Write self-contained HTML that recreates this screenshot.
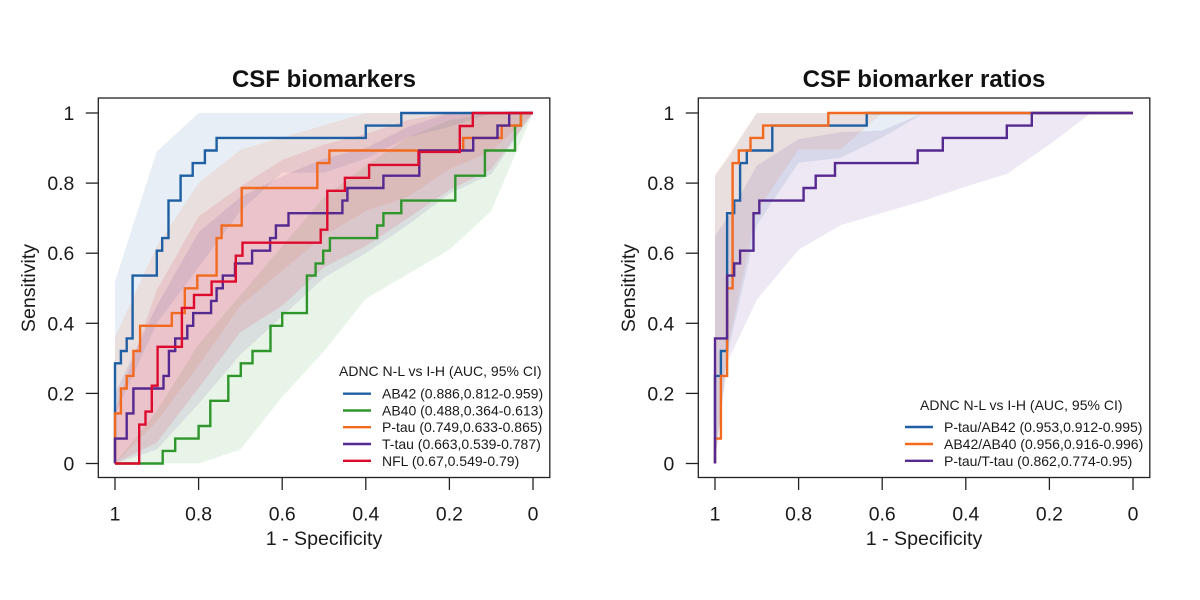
<!DOCTYPE html>
<html lang="en">
<head>
<meta charset="utf-8">
<title>CSF biomarkers ROC curves</title>
<style>
html,body{margin:0;padding:0;background:#fff;}
svg{display:block;font-family:"Liberation Sans",Arial,sans-serif;fill:#1a1a1a;}
</style>
</head>
<body>
<svg id="chart" width="1200" height="600" viewBox="0 0 1200 600" xmlns="http://www.w3.org/2000/svg">
  <rect width="1200" height="600" fill="#ffffff"/>
  <g id="panel-left"></g>
  <g id="panel-right"></g>

  <text x="324" y="87" text-anchor="middle" font-size="24" font-weight="700" fill="#111">CSF biomarkers</text>
  <text x="924" y="87" text-anchor="middle" font-size="24" font-weight="700" fill="#111">CSF biomarker ratios</text>
  <text x="324" y="545" text-anchor="middle" font-size="19.6">1 - Specificity</text>
  <text x="924" y="545" text-anchor="middle" font-size="19.6">1 - Specificity</text>
  <text transform="translate(35,288) rotate(-90)" text-anchor="middle" font-size="19.6">Sensitivity</text>
  <text transform="translate(635,288) rotate(-90)" text-anchor="middle" font-size="19.6">Sensitivity</text>

  <g font-size="14">
    <text x="339" y="376">ADNC N-L vs I-H (AUC, 95% CI)</text>
    <line x1="343" x2="371" y1="393.7" y2="393.7" stroke="#1f5fa3" stroke-width="2.4"/>
    <text x="382" y="398.7">AB42 (0.886,0.812-0.959)</text>
    <line x1="343" x2="371" y1="410.5" y2="410.5" stroke="#2f962c" stroke-width="2.4"/>
    <text x="382" y="415.5">AB40 (0.488,0.364-0.613)</text>
    <line x1="343" x2="371" y1="427.2" y2="427.2" stroke="#f26a1f" stroke-width="2.4"/>
    <text x="382" y="432.2">P-tau (0.749,0.633-0.865)</text>
    <line x1="343" x2="371" y1="444" y2="444" stroke="#55298f" stroke-width="2.4"/>
    <text x="382" y="449">T-tau (0.663,0.539-0.787)</text>
    <line x1="343" x2="371" y1="460.8" y2="460.8" stroke="#de0a2e" stroke-width="2.4"/>
    <text x="382" y="465.8">NFL (0.67,0.549-0.79)</text>
  </g>

  <g font-size="14">
    <text x="920" y="410">ADNC N-L vs I-H (AUC, 95% CI)</text>
    <line x1="905" x2="933" y1="427" y2="427" stroke="#1f5fa3" stroke-width="2.4"/>
    <text x="944" y="432">P-tau/AB42 (0.953,0.912-0.995)</text>
    <line x1="905" x2="933" y1="444" y2="444" stroke="#f26a1f" stroke-width="2.4"/>
    <text x="944" y="449">AB42/AB40 (0.956,0.916-0.996)</text>
    <line x1="905" x2="933" y1="460.8" y2="460.8" stroke="#55298f" stroke-width="2.4"/>
    <text x="944" y="465.8">P-tau/T-tau (0.862,0.774-0.95)</text>
  </g>
</svg>
<script>
// Axis tick labels
const xTicks = [1, 0.8, 0.6, 0.4, 0.2, 0];
const yTicks = [0, 0.2, 0.4, 0.6, 0.8, 1];

// Left panel: step curves (specificity at which the curve rises, sensitivity reached)
const ab42Spec = [1, 0.986, 0.972, 0.958, 0.9, 0.887, 0.872, 0.843, 0.814, 0.785, 0.757, 0.4, 0.315];
const ab42Sens = [0.286, 0.321, 0.357, 0.536, 0.607, 0.643, 0.75, 0.821, 0.857, 0.893, 0.929, 0.964, 1];
const ab40Spec = [1, 0.886, 0.856, 0.8, 0.772, 0.729, 0.699, 0.671, 0.628, 0.6, 0.541, 0.52, 0.502, 0.486, 0.373, 0.358, 0.315, 0.186, 0.115, 0.043, 0.029];
const ab40Sens = [0, 0.036, 0.071, 0.107, 0.179, 0.25, 0.286, 0.321, 0.393, 0.429, 0.536, 0.571, 0.607, 0.643, 0.679, 0.714, 0.75, 0.821, 0.893, 0.964, 1];
const pTauSpec = [1, 0.986, 0.972, 0.956, 0.94, 0.864, 0.833, 0.803, 0.757, 0.745, 0.697, 0.516, 0.487, 0.167, 0.075, 0.029];
const pTauSens = [0.143, 0.214, 0.25, 0.321, 0.393, 0.429, 0.5, 0.536, 0.643, 0.679, 0.786, 0.857, 0.893, 0.929, 0.964, 1];
const tTauSpec = [1, 0.972, 0.956, 0.884, 0.871, 0.856, 0.827, 0.813, 0.77, 0.757, 0.742, 0.713, 0.672, 0.629, 0.615, 0.585, 0.456, 0.444, 0.358, 0.272, 0.143, 0.085, 0.057];
const tTauSens = [0.071, 0.143, 0.214, 0.25, 0.321, 0.357, 0.393, 0.429, 0.464, 0.5, 0.536, 0.571, 0.607, 0.643, 0.679, 0.714, 0.75, 0.786, 0.821, 0.893, 0.929, 0.964, 1];
const nflSpec = [1, 0.942, 0.927, 0.912, 0.898, 0.84, 0.811, 0.769, 0.711, 0.695, 0.508, 0.492, 0.45, 0.392, 0.274, 0.175, 0.144];
const nflSens = [0, 0.111, 0.148, 0.222, 0.333, 0.444, 0.481, 0.519, 0.593, 0.63, 0.667, 0.778, 0.815, 0.852, 0.889, 0.963, 1];

// Left panel: confidence bands at a specificity grid
const leftBandSpec = [1, 0.9, 0.8, 0.7, 0.6, 0.5, 0.4, 0.3, 0.2, 0.1, 0];
const ab42Upper = [0.52, 0.89, 1, 1, 1, 1, 1, 1, 1, 1, 1];
const ab42Lower = [0.14, 0.4, 0.56, 0.72, 0.83, 0.83, 0.87, 0.93, 0.96, 1, 1];
const ab40Upper = [0, 0.15, 0.34, 0.48, 0.62, 0.76, 0.85, 0.93, 0.98, 1, 1];
const ab40Lower = [0, 0, 0, 0.04, 0.19, 0.32, 0.47, 0.54, 0.61, 0.72, 1];
const pTauUpper = [0.36, 0.62, 0.8, 0.895, 0.93, 0.965, 1, 1, 1, 1, 1];
const pTauLower = [0, 0.12, 0.28, 0.45, 0.55, 0.65, 0.72, 0.76, 0.84, 0.89, 1];
const tTauUpper = [0.2, 0.45, 0.66, 0.76, 0.82, 0.87, 0.9, 0.96, 1, 1, 1];
const tTauLower = [0, 0.04, 0.17, 0.31, 0.42, 0.53, 0.6, 0.68, 0.77, 0.825, 1];
const nflUpper = [0.15, 0.495, 0.705, 0.79, 0.866, 0.91, 0.94, 0.98, 1, 1, 1];
const nflLower = [0, 0.06, 0.215, 0.375, 0.45, 0.56, 0.62, 0.7, 0.78, 0.84, 1];

// Right panel: step curves
const pTauAb42Spec = [1, 0.986, 0.971, 0.954, 0.94, 0.924, 0.863, 0.637];
const pTauAb42Sens = [0.25, 0.321, 0.714, 0.75, 0.857, 0.893, 0.964, 1];
const ab42Ab40Spec = [1, 0.986, 0.971, 0.958, 0.943, 0.915, 0.885, 0.729];
const ab42Ab40Sens = [0.071, 0.25, 0.5, 0.857, 0.893, 0.929, 0.964, 1];
const pTauTTauSpec = [1, 0.971, 0.954, 0.94, 0.908, 0.894, 0.788, 0.759, 0.713, 0.515, 0.455, 0.302, 0.242];
const pTauTTauSens = [0.357, 0.536, 0.571, 0.607, 0.714, 0.75, 0.786, 0.821, 0.857, 0.893, 0.929, 0.964, 1];

// Right panel: confidence bands
const rightBandSpec = [1, 0.97, 0.9, 0.8, 0.7, 0.6, 0.5, 0.4, 0.3, 0.2, 0.1, 0];
const pTauAb42Upper = [0.82, 0.87, 1, 1, 1, 1, 1, 1, 1, 1, 1, 1];
const pTauAb42Lower = [0, 0.31, 0.68, 0.858, 0.872, 0.93, 1, 1, 1, 1, 1, 1];
const ab42Ab40Upper = [0.824, 0.875, 1, 1, 1, 1, 1, 1, 1, 1, 1, 1];
const ab42Ab40Lower = [0, 0.33, 0.72, 0.896, 0.896, 1, 1, 1, 1, 1, 1, 1];
const pTauTTauUpper = [0.65, 0.7, 0.85, 0.925, 0.945, 0.95, 1, 1, 1, 1, 1, 1];
const pTauTTauLower = [0, 0.29, 0.467, 0.61, 0.68, 0.715, 0.75, 0.79, 0.827, 0.91, 1, 1];

const colBlue = '#1f5fa3';
const colGreen = '#2f962c';
const colOrange = '#f26a1f';
const colPurple = '#55298f';
const colRed = '#de0a2e';

const leftSeries = [
  { key: 'ab42', color: colBlue, spec: ab42Spec, sens: ab42Sens, upper: ab42Upper, lower: ab42Lower },
  { key: 'ab40', color: colGreen, spec: ab40Spec, sens: ab40Sens, upper: ab40Upper, lower: ab40Lower },
  { key: 'p-tau', color: colOrange, spec: pTauSpec, sens: pTauSens, upper: pTauUpper, lower: pTauLower },
  { key: 't-tau', color: colPurple, spec: tTauSpec, sens: tTauSens, upper: tTauUpper, lower: tTauLower },
  { key: 'nfl', color: colRed, spec: nflSpec, sens: nflSens, upper: nflUpper, lower: nflLower }
];
const rightSeries = [
  { key: 'p-tau-ab42', color: colBlue, spec: pTauAb42Spec, sens: pTauAb42Sens, upper: pTauAb42Upper, lower: pTauAb42Lower },
  { key: 'ab42-ab40', color: colOrange, spec: ab42Ab40Spec, sens: ab42Ab40Sens, upper: ab42Ab40Upper, lower: ab42Ab40Lower },
  { key: 'p-tau-t-tau', color: colPurple, spec: pTauTTauSpec, sens: pTauTTauSens, upper: pTauTTauUpper, lower: pTauTTauLower }
];

const NS = 'http://www.w3.org/2000/svg';
function make(tag, attrs, parent) {
  const el = document.createElementNS(NS, tag);
  for (const k in attrs) el.setAttribute(k, attrs[k]);
  parent.appendChild(el);
  return el;
}
const yScale = v => 463.5 - v * 350.5;

function drawPanel(group, xOne, boxLeft, series, bandSpec) {
  const xScale = s => xOne + (1 - s) * 418;

  series.forEach(s => {
    const top = bandSpec.map((g, i) => xScale(g).toFixed(1) + ',' + yScale(s.upper[i]).toFixed(1));
    const bottom = bandSpec.map((g, i) => xScale(g).toFixed(1) + ',' + yScale(s.lower[i]).toFixed(1)).reverse();
    const band = make('polygon', { points: top.concat(bottom).join(' '), fill: s.color, 'fill-opacity': 0.105 }, group);
    
    
  });

  series.forEach(s => {
    let d = 'M' + xScale(s.spec[0]).toFixed(1) + ' ' + yScale(0).toFixed(1);
    s.spec.forEach((sp, i) => {
      d += 'V' + yScale(s.sens[i]).toFixed(1);
      const next = i + 1 < s.spec.length ? s.spec[i + 1] : 0;
      d += 'H' + xScale(next).toFixed(1);
    });
    const line = make('path', { d: d, fill: 'none', stroke: s.color, 'stroke-width': 2.4, 'stroke-linejoin': 'miter' }, group);
    
    
  });

  const box = make('rect', { x: boxLeft, y: 98, width: 451.5, height: 379.5, fill: 'none', stroke: '#222', 'stroke-width': 1.3 }, group);
  
  

  xTicks.forEach(t => {
    const x = xScale(t);
    const tick = make('line', { x1: x, x2: x, y1: 477.5, y2: 490, stroke: '#222', 'stroke-width': 1.3 }, group);
    
    
    const label = make('text', { x: x, y: 520.5, 'text-anchor': 'middle', 'font-size': 19.4 }, group);
    
    
    label.textContent = String(t);
  });

  yTicks.forEach(t => {
    const y = yScale(t);
    const tick = make('line', { x1: boxLeft - 12.5, x2: boxLeft, y1: y, y2: y, stroke: '#222', 'stroke-width': 1.3 }, group);
    
    
    const label = make('text', { x: boxLeft - 24, y: y + 7, 'text-anchor': 'end', 'font-size': 19.4 }, group);
    
    
    label.textContent = String(t);
  });
}

drawPanel(document.getElementById('panel-left'), 115, 98.3, leftSeries, leftBandSpec);
drawPanel(document.getElementById('panel-right'), 715, 698.3, rightSeries, rightBandSpec);
</script>
</body>
</html>
